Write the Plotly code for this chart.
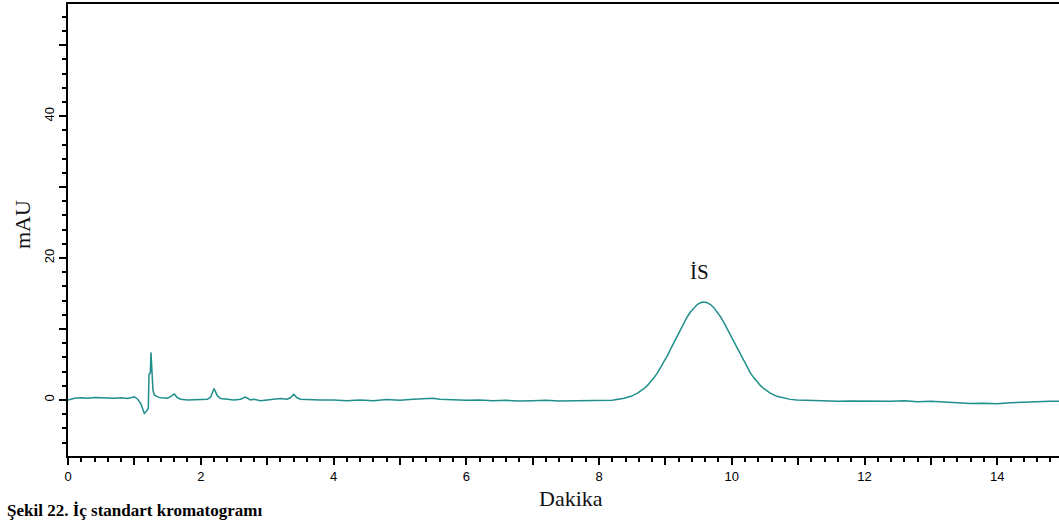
import plotly.graph_objects as go

# Retention time (min) and absorbance (mAU)
time_min = [
    0.0, 0.1, 0.2, 0.3, 0.4, 0.5, 0.6, 0.7, 0.8, 0.9, 1.0, 1.05, 1.1, 1.15, 1.18, 1.2,
    1.21, 1.22, 1.24, 1.25, 1.26, 1.27, 1.28, 1.3, 1.33, 1.36, 1.4, 1.45, 1.5, 1.55,
    1.6, 1.65, 1.7, 1.8, 1.9, 2.0, 2.1, 2.15, 2.2, 2.25, 2.3, 2.4, 2.5, 2.6, 2.67,
    2.75, 2.8, 2.9, 3.0, 3.1, 3.2, 3.3, 3.35, 3.4, 3.45, 3.5, 3.6, 3.8, 4.0, 4.2,
    4.4, 4.6, 4.8, 5.0, 5.2, 5.4, 5.5, 5.6, 5.8, 6.0, 6.2, 6.4, 6.6, 6.8, 7.0, 7.2,
    7.4, 7.6, 7.8, 8.0, 8.2, 8.38, 8.48, 8.58, 8.63, 8.68, 8.73, 8.78, 8.83, 8.88,
    8.93, 8.98, 9.03, 9.08, 9.13, 9.18, 9.23, 9.28, 9.33, 9.38, 9.43, 9.48, 9.53,
    9.58, 9.63, 9.68, 9.73, 9.78, 9.83, 9.88, 9.93, 9.98, 10.03, 10.08, 10.13,
    10.18, 10.23, 10.28, 10.33, 10.38, 10.43, 10.48, 10.53, 10.58, 10.68, 10.78,
    10.88, 10.98, 11.2, 11.4, 11.6, 11.8, 12.0, 12.2, 12.4, 12.6, 12.8, 13.0, 13.2,
    13.4, 13.6, 13.8, 14.0, 14.2, 14.4, 14.6, 14.8, 14.95,
]
absorbance_mau = [
    0.0, 0.25, 0.3, 0.25, 0.35, 0.3, 0.35, 0.25, 0.3, 0.2, 0.45, 0.1, -0.6, -1.9, -1.6, -1.4,
    -1.2, 3.6, 3.8, 6.7, 4.3, 4.4, 1.4, 0.7, 0.5, 0.4, 0.3, 0.3, 0.25, 0.5,
    0.85, 0.3, 0.1, 0.0, 0.05, 0.0, 0.1, 0.4, 1.6, 0.6, 0.2, 0.1, 0.0, 0.1, 0.4,
    0.0, 0.1, -0.1, 0.0, 0.05, 0.2, 0.1, 0.3, 0.8, 0.3, 0.1, 0.05, 0.0, 0.0, -0.1,
    0.0, -0.1, 0.05, -0.05, 0.1, 0.2, 0.25, 0.1, 0.0, -0.05, 0.0, -0.1, -0.05, -0.15, -0.1, -0.05,
    -0.15, -0.1, -0.15, -0.1, -0.05, 0.24, 0.51, 0.95, 1.25, 1.62, 2.05, 2.56, 3.15, 3.82,
    4.57, 5.38, 6.26, 7.19, 8.14, 9.09, 10.03, 10.92, 11.73, 12.43, 13.01, 13.45, 13.71,
    13.8, 13.71, 13.45, 13.01, 12.43, 11.73, 10.92, 10.03, 9.09, 8.14, 7.19, 6.26,
    5.38, 4.57, 3.82, 3.15, 2.56, 2.05, 1.62, 1.25, 0.95, 0.51, 0.24,
    0.08, -0.02, -0.1, -0.15, -0.2, -0.15, -0.2, -0.25, -0.2, -0.1, -0.25, -0.2, -0.3,
    -0.45, -0.5, -0.45, -0.55, -0.4, -0.3, -0.25, -0.2, -0.2,
]

x_major_ticks = [0, 1, 2, 3, 4, 5, 6, 7, 8, 9, 10, 11, 12, 13, 14]
x_tick_labels = ["0", "", "2", "", "4", "", "6", "", "8", "", "10", "", "12", "", "14"]
y_major_ticks = [0, 10, 20, 30, 40, 50]
y_tick_labels = ["0", "", "20", "", "40", ""]

peak_label = "İS"
peak_label_pos = (9.52, 18.0)

serif = "Liberation Serif, Times New Roman, serif"
sans = "Liberation Sans, Arial, sans-serif"

fig = go.Figure()
fig.add_trace(go.Scatter(
    x=time_min, y=absorbance_mau, mode="lines",
    line=dict(color="#1f8f8c", width=1.5), showlegend=False, hoverinfo="x+y",
))

fig.add_annotation(x=peak_label_pos[0], y=peak_label_pos[1], text=peak_label,
                   showarrow=False, font=dict(family=serif, size=21, color="#111"))
fig.add_annotation(xref="paper", yref="paper", x=-0.0464, y=0.511, text="mAU",
                   xanchor="center", yanchor="middle",
                   textangle=-90, showarrow=False,
                   font=dict(family=serif, size=22, color="#111"))
fig.add_annotation(xref="paper", yref="paper", x=0.5076, y=-0.093, text="Dakika",
                   xanchor="center", yanchor="middle",
                   showarrow=False, font=dict(family=serif, size=22, color="#111"))
fig.add_annotation(xref="paper", yref="paper", x=-0.064, y=-0.146,
                   xanchor="left", yanchor="bottom",
                   text="<b>Şekil 22. İç standart kromatogramı</b>",
                   showarrow=False, font=dict(family=serif, size=17, color="#000"))

fig.update_xaxes(
    range=[0, 14.93], tickmode="array", tickvals=x_major_ticks, ticktext=x_tick_labels,
    ticks="outside", ticklen=7, tickwidth=1.5, tickcolor="#000",
    minor=dict(dtick=0.2, ticks="outside", ticklen=4, tickwidth=1.5, tickcolor="#000"),
    showline=True, linecolor="#000", linewidth=2, mirror=True,
    showgrid=False, zeroline=False,
    tickfont=dict(family=sans, size=13, color="#000"),
)
fig.update_yaxes(
    range=[-7.9, 55.8], tickmode="array", tickvals=y_major_ticks, ticktext=y_tick_labels,
    tickangle=-90,
    ticks="outside", ticklen=7, tickwidth=1.5, tickcolor="#000",
    minor=dict(dtick=2, ticks="outside", ticklen=4, tickwidth=1.5, tickcolor="#000"),
    showline=True, linecolor="#000", linewidth=2, mirror=False,
    showgrid=False, zeroline=False,
    tickfont=dict(family=sans, size=13, color="#000"),
)

fig.update_layout(
    width=1059, height=523,
    margin=dict(l=68, r=0, t=4, b=67),
    plot_bgcolor="white", paper_bgcolor="white",
)

fig.write_html("out.html")
